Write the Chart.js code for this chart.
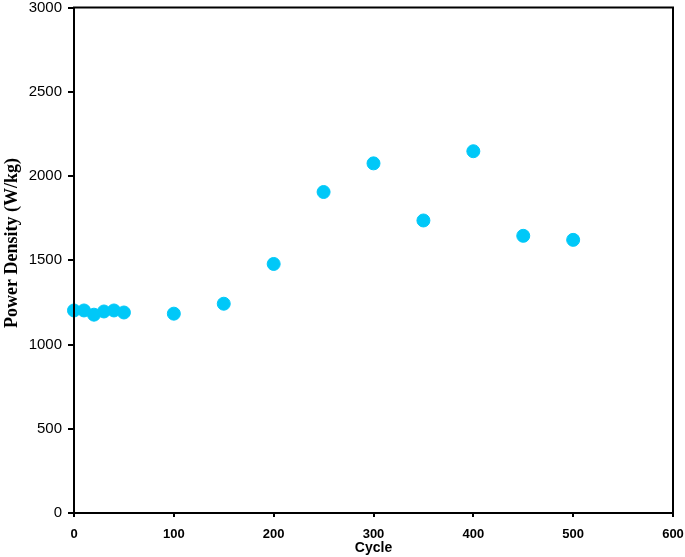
<!DOCTYPE html>
<html>
<head>
<meta charset="utf-8">
<script src="https://cdn.jsdelivr.net/npm/chart.js@4/dist/chart.umd.min.js"></script>
<style>
  html, body { margin: 0; padding: 0; background: #fff; }
  #wrap { width: 685px; height: 557px; }
</style>
</head>
<body>
<div id="wrap"><canvas id="grafico"></canvas></div>
<script>
// dados
const cycles = [0, 10, 20, 30, 40, 50, 100, 150, 200, 250, 300, 350, 400, 450, 500];
const power = [1202, 1202, 1177, 1196, 1202, 1190, 1183, 1242, 1478, 1905, 2075, 1736, 2147, 1645, 1621];
const xTicks = [0, 100, 200, 300, 400, 500, 600];
const yTicks = [0, 500, 1000, 1500, 2000, 2500, 3000];
const xTitle = 'Cycle';
const yTitle = 'Power Density (W/kg)';

// moldura + títulos dos eixos
const frame = {
  id: 'frame',
  afterDraw(chart) {
    const { ctx, chartArea: a } = chart;
    ctx.save();
    ctx.strokeStyle = '#000';
    ctx.lineWidth = 2;
    ctx.strokeRect(a.left, a.top, a.right - a.left, a.bottom - a.top);

    ctx.fillStyle = '#000';
    ctx.textAlign = 'center';
    ctx.textBaseline = 'middle';
    ctx.font = 'bold 14px "Liberation Sans", Arial';
    ctx.fillText(xTitle, (a.left + a.right) / 2, 548);

    ctx.translate(12, 243);
    ctx.rotate(-Math.PI / 2);
    ctx.font = 'bold 18px "Liberation Serif", "Times New Roman"';
    ctx.fillText(yTitle, 0, 0);
    ctx.restore();
  }
};

const ctx = document.getElementById('grafico').getContext('2d');
const grafico = new Chart(ctx, {
  type: 'scatter',
  data: {
    datasets: [{
      label: 'Power Density',
      data: cycles.map((c, i) => ({ x: c, y: power[i] })),
      backgroundColor: '#00C8F8',
      borderColor: '#00C8F8',
      pointRadius: 6.5,
      pointHoverRadius: 6.5,
      clip: false
    }]
  },
  options: {
    responsive: true,
    maintainAspectRatio: false,
    animation: false,
    layout: { padding: { top: 5, right: 12, left: 0, bottom: 0 } },
    plugins: {
      legend: { display: false },
      tooltip: { enabled: false }
    },
    scales: {
      x: {
        type: 'linear',
        min: 0,
        max: 600,
        afterBuildTicks: s => { s.ticks = xTicks.map(v => ({ value: v })); },
        afterFit: s => { s.height = 44; s.paddingLeft = 0; s.paddingRight = 0; },
        grid: { drawOnChartArea: false, color: '#000', tickLength: 4, lineWidth: 2 },
        border: { color: '#000', width: 2 },
        ticks: {
          color: '#000',
          padding: 10,
          maxRotation: 0,
          callback: v => String(v),
          font: { family: 'Liberation Sans, Arial', size: 13, weight: 'bold' }
        }
      },
      y: {
        min: 0,
        max: 3000,
        afterBuildTicks: s => { s.ticks = yTicks.map(v => ({ value: v })); },
        afterFit: s => { s.width = 74; s.paddingTop = 0; s.paddingBottom = 0; },
        grid: { drawOnChartArea: false, color: '#000', tickLength: 6, lineWidth: 2 },
        border: { color: '#000', width: 2 },
        ticks: {
          color: '#000',
          padding: 6,
          callback: v => String(v),
          font: { family: 'Liberation Sans, Arial', size: 15 }
        }
      }
    }
  },
  plugins: [frame]
});
</script>
</body>
</html>
